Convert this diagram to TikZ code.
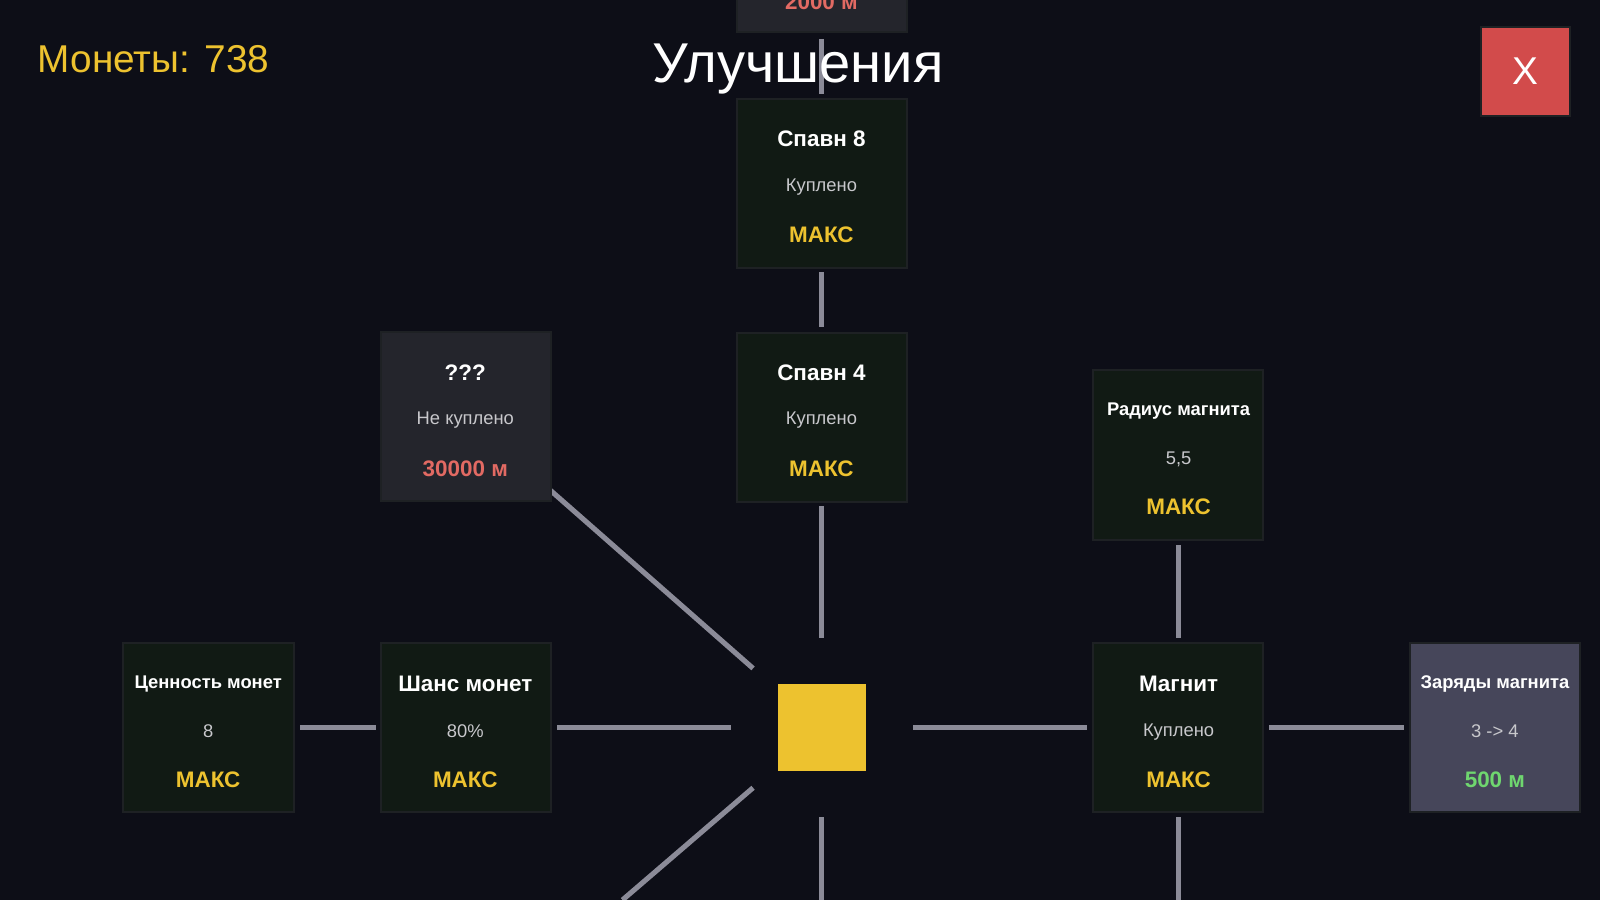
\documentclass[tikz,border=0pt]{standalone}
\usepackage{fontspec}
\setmainfont{Liberation Sans}
\definecolor{bg}{HTML}{0D0E17}
\definecolor{cardg}{HTML}{111A14}
\definecolor{cardd}{HTML}{24252C}
\definecolor{cardl}{HTML}{46465A}
\definecolor{edge}{HTML}{1E2124}
\definecolor{wire}{HTML}{8B8B98}
\definecolor{gold}{HTML}{EDC22F}
\definecolor{redt}{HTML}{E26A63}
\definecolor{greent}{HTML}{6FD66F}
\definecolor{subt}{HTML}{C8C8CC}
\definecolor{btn}{HTML}{D24B4B}
\begin{document}
\begin{tikzpicture}[x=1pt,y=-1pt,
  card/.style={draw=edge,line width=2pt,fill=cardg,minimum width=167pt,minimum height=166pt,inner sep=0pt},
  wire/.style={draw=wire,line width=5pt},
  ttl/.style={text=white,font=\bfseries\fontsize{22}{24}\selectfont},
  tts/.style={text=white,font=\bfseries\fontsize{18}{20}\selectfont},
  sub/.style={text=subt,font=\fontsize{18}{20}\selectfont},
  mx/.style={text=gold,font=\bfseries\fontsize{22}{24}\selectfont}]
\fill[bg] (0,0) rectangle (1568,882);
\useasboundingbox (0,0) rectangle (1568,882);
% wires
\draw[wire] (805,38) -- (805,92);
\draw[wire] (805,267) -- (805,320);
\draw[wire] (805,496) -- (805,625);
\draw[wire] (805,801) -- (805,882);
\draw[wire] (895,713) -- (1065,713);
\draw[wire] (1244,713) -- (1376,713);
\draw[wire] (1155,534) -- (1155,625);
\draw[wire] (1155,801) -- (1155,882);
\draw[wire] (546,713) -- (716,713);
\draw[wire] (294,713) -- (368,713);
\draw[wire] (738,655) -- (524,467);
\draw[wire] (738,772) -- (610,882);
% top partial card
\node[card,fill=cardd,anchor=south] (top) at (805.5,32) {};
\node[text=redt,font=\bfseries\fontsize{22}{24}\selectfont] (topt) at (805,2) {2000 м};
% title
\node[text=white,font=\fontsize{55}{58}\selectfont] (title) at (782,68) {Улучшения};
\node[text=gold,font=\fontsize{38}{40}\selectfont,anchor=west,inner sep=0pt] (coins) at (37,58) {Монеты: 738};
\node[draw=edge,line width=2pt,fill=btn,minimum width=88pt,minimum height=87pt,text=white,font=\fontsize{38}{40}\selectfont] (close) at (1495,70) {X};
% cards
\node[card] (sp8) at (805.5,180) {};
\node[ttl] at (805,136) {Спавн 8};
\node[sub] at (805,183) {Куплено};
\node[mx] at (805,230) {МАКС};
\node[card] (sp4) at (805.5,409) {};
\node[ttl] at (805,365) {Спавн 4};
\node[sub] at (805,412) {Куплено};
\node[mx] at (805,459) {МАКС};
\node[card,fill=cardd] (unk) at (456.5,408) {};
\node[ttl] at (456,365) {???};
\node[sub] at (456,412) {Не куплено};
\node[mx,text=redt] at (456,459) {30000 м};
\node[card] (rad) at (1154.5,446) {};
\node[tts] at (1155,403) {Радиус магнита};
\node[sub] at (1155,450) {5,5};
\node[mx] at (1155,497) {МАКС};
\node[card] (mag) at (1154.5,713) {};
\node[ttl] at (1155,670) {Магнит};
\node[sub] at (1155,717) {Куплено};
\node[mx] at (1155,764) {МАКС};
\node[card,fill=cardl] (chg) at (1465,713) {};
\node[tts] at (1465,670) {Заряды магнита};
\node[sub] at (1465,717) {3 -> 4};
\node[mx,text=greent] at (1465,764) {500 м};
\node[card] (ch) at (456.5,713) {};
\node[ttl] at (456,670) {Шанс монет};
\node[sub] at (456,717) {80\%};
\node[mx] at (456,764) {МАКС};
\node[card] (val) at (204.5,713) {};
\node[tts] at (204,670) {Ценность монет};
\node[sub] at (204,717) {8};
\node[mx] at (204,764) {МАКС};
% center
\node[fill=gold,minimum width=87pt,minimum height=86pt,inner sep=0pt] (core) at (805.5,713) {};
\end{tikzpicture}
\end{document}
